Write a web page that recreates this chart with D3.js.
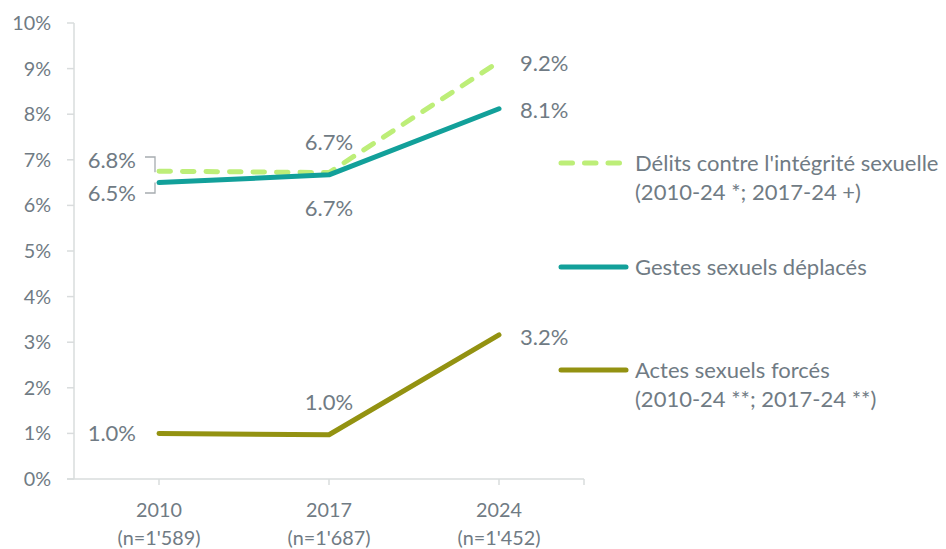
<!DOCTYPE html>
<html>
<head>
<meta charset="utf-8">
<script src="https://cdn.jsdelivr.net/npm/d3@7"></script>
<style>
  body { margin: 0; background: #fff; }
  svg text { font-family: Lato, "Open Sans", sans-serif; fill: #707b84; }
</style>
</head>
<body>
<script>
// categories + sample sizes
const years = ["2010", "2017", "2024"];
const samples = ["(n=1'589)", "(n=1'687)", "(n=1'452)"];

// series values (%)
const delits = [6.75, 6.72, 9.15];
const gestes = [6.5, 6.67, 8.12];
const actes = [1.0, 0.97, 3.16];

// data labels as printed
const delitsLabels = ["6.8%", "6.7%", "9.2%"];
const gestesLabels = ["6.5%", "6.7%", "8.1%"];
const actesLabels = ["1.0%", "1.0%", "3.2%"];

const yTicks = [0, 1, 2, 3, 4, 5, 6, 7, 8, 9, 10];

const series = [
    {name: ["Délits contre l'intégrité sexuelle", "(2010-24 *; 2017-24 +)"], values: delits, labels: delitsLabels, color: "#bdee78", dash: "11.5,12", legendY: 163},
    {name: ["Gestes sexuels déplacés"], values: gestes, labels: gestesLabels, color: "#12a09a", dash: null, legendY: 267},
    {name: ["Actes sexuels forcés", "(2010-24 **; 2017-24 **)"], values: actes, labels: actesLabels, color: "#939211", dash: null, legendY: 370}
];

const width = 946, height = 549;
const axisFont = 19.8;   // tick labels
const labelFont = 22;    // data labels + legend

const svg = d3.select("body").append("svg")
    .attr("width", width)
    .attr("height", height);

const xscale = d3.scaleBand()
    .domain(years)
    .range([74, 584]);

const yscale = d3.scaleLinear()
    .domain([0, 10])
    .range([479, 23]);

const xc = d => xscale(d) + xscale.bandwidth() / 2;

// Y axis
const yaxis = svg.append("g");
yaxis.append("line")
    .attr("x1", 74).attr("x2", 74)
    .attr("y1", yscale(10)).attr("y2", yscale(0))
    .attr("stroke", "#d9dcdd").attr("stroke-width", 1.5);
yaxis.selectAll(".tick")
    .data(yTicks)
    .enter()
    .append("line")
    .attr("x1", 67).attr("x2", 74)
    .attr("y1", d => yscale(d)).attr("y2", d => yscale(d))
    .attr("stroke", "#d9dcdd").attr("stroke-width", 1.5);
yaxis.selectAll("text")
    .data(yTicks)
    .enter()
    .append("text")
    .attr("x", 51)
    .attr("y", d => yscale(d))
    .attr("dy", "0.35em")
    .attr("text-anchor", "end")
    .attr("font-size", axisFont)
    .text(d => d + "%");

// X axis
const xaxis = svg.append("g");
xaxis.append("line")
    .attr("x1", 67).attr("x2", 584)
    .attr("y1", yscale(0)).attr("y2", yscale(0))
    .attr("stroke", "#d9dcdd").attr("stroke-width", 1.5);
xaxis.selectAll(".tick")
    .data(years.concat(["end"]))
    .enter()
    .append("line")
    .attr("x1", d => d === "end" ? 584 : xc(d))
    .attr("x2", d => d === "end" ? 584 : xc(d))
    .attr("y1", yscale(0)).attr("y2", yscale(0) + 6)
    .attr("stroke", "#d9dcdd").attr("stroke-width", 1.5);
xaxis.selectAll(".year")
    .data(years)
    .enter()
    .append("text")
    .attr("x", d => xc(d))
    .attr("y", 510)
    .attr("dy", "0.35em")
    .attr("text-anchor", "middle")
    .attr("font-size", axisFont)
    .text(d => d);
xaxis.selectAll(".n")
    .data(years)
    .enter()
    .append("text")
    .attr("x", d => xc(d))
    .attr("y", 538)
    .attr("dy", "0.35em")
    .attr("text-anchor", "middle")
    .attr("font-size", axisFont)
    .text((d, i) => samples[i]);

// lines
const line = d3.line()
    .x((d, i) => xc(years[i]))
    .y(d => yscale(d));

series.forEach(s => {
    svg.append("path")
        .datum(s.values)
        .attr("d", line)
        .attr("fill", "none")
        .attr("stroke", s.color)
        .attr("stroke-width", 5)
        .attr("stroke-linecap", "round")
        .attr("stroke-linejoin", "round")
        .attr("stroke-dasharray", s.dash);
});

// leader lines for the 2010 labels that overlap
const leader = (yLabel, yPoint) => {
    const x0 = xc(years[0]);
    svg.append("path")
        .attr("d", `M${x0 - 14},${yLabel} H${x0 - 4} V${yPoint}`)
        .attr("fill", "none")
        .attr("stroke", "#a6acb0")
        .attr("stroke-width", 1.3);
};
leader(157, yscale(delits[0]) + 1);
leader(193, yscale(gestes[0]));

// data labels: [series, index, x offset, y, anchor]
const labelPos = [
    [0, 0, -23, 160, "end"], [0, 1, 0, 142, "middle"], [0, 2, 21, 63, "start"],
    [1, 0, -23, 193, "end"], [1, 1, 0, 208, "middle"], [1, 2, 21, 110, "start"],
    [2, 0, -23, 433, "end"], [2, 1, 0, 402, "middle"], [2, 2, 21, 337, "start"]
];
svg.append("g").selectAll("text")
    .data(labelPos)
    .enter()
    .append("text")
    .attr("x", d => xc(years[d[1]]) + d[2])
    .attr("y", d => d[3])
    .attr("dy", "0.35em")
    .attr("text-anchor", d => d[4])
    .attr("font-size", labelFont)
    .text(d => series[d[0]].labels[d[1]]);

// legend
const legend = svg.append("g");
series.forEach(s => {
    legend.append("line")
        .attr("x1", 561).attr("x2", 626)
        .attr("y1", s.legendY).attr("y2", s.legendY)
        .attr("stroke", s.color)
        .attr("stroke-width", 5)
        .attr("stroke-linecap", "round")
        .attr("stroke-dasharray", s.dash);
    s.name.forEach((t, j) => {
        legend.append("text")
            .attr("x", 635)
            .attr("y", s.legendY + j * 29)
            .attr("dy", "0.35em")
            .attr("font-size", labelFont)
            .text(t);
    });
});
</script>
</body>
</html>
